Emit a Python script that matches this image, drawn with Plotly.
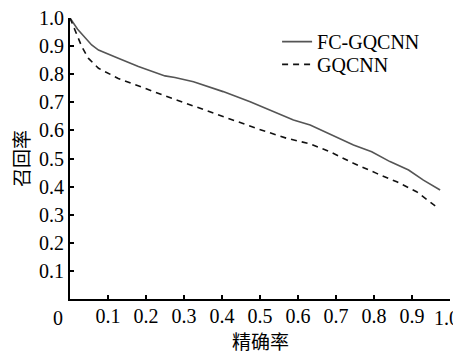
import plotly.graph_objects as go

# FC-GQCNN (solid)
fc_precision = [0.0, 0.02, 0.057, 0.075, 0.127, 0.18, 0.25, 0.276, 0.325, 0.403, 0.474,
                0.535, 0.588, 0.632, 0.684, 0.746, 0.794, 0.842, 0.891, 0.93, 0.974]
fc_recall = [1.0, 0.96, 0.904, 0.886, 0.857, 0.827, 0.794, 0.788, 0.773, 0.738, 0.702,
             0.667, 0.637, 0.619, 0.587, 0.548, 0.524, 0.489, 0.459, 0.423, 0.388]

# GQCNN (dashed)
gq_precision = [0.0, 0.015, 0.031, 0.048, 0.075, 0.127, 0.206, 0.268, 0.325, 0.403, 0.491,
                0.57, 0.632, 0.684, 0.746, 0.807, 0.86, 0.912, 0.961]
gq_recall = [1.0, 0.95, 0.898, 0.857, 0.821, 0.785, 0.744, 0.714, 0.687, 0.649, 0.607,
             0.572, 0.552, 0.524, 0.483, 0.447, 0.417, 0.382, 0.331]

x_ticks = [0.1, 0.2, 0.3, 0.4, 0.5, 0.6, 0.7, 0.8, 0.9, 1.0]
x_ticktext = ["0.1", "0.2", "0.3", "0.4", "0.5", "0.6", "0.7", "0.8", "0.9", ""]
x_last_label = "1.0"   # drawn separately so it stays inside the page edge
y_ticks = [0.1, 0.2, 0.3, 0.4, 0.5, 0.6, 0.7, 0.8, 0.9, 1.0]
y_ticktext = ["0.1", "0.2", "0.3", "0.4", "0.5", "0.6", "0.7", "0.8", "0.9", "1.0"]

SERIF = "Liberation Serif"
CJK = "Noto Sans CJK SC"

fig = go.Figure()
fig.add_trace(go.Scatter(x=fc_precision, y=fc_recall, mode="lines", name="FC-GQCNN",
                         line=dict(color="#555555", width=1.6), legend="legend"))
fig.add_trace(go.Scatter(x=gq_precision, y=gq_recall, mode="lines", name="GQCNN",
                         line=dict(color="#111111", width=1.6, dash="6px,5px"),
                         legend="legend2"))

leg_common = dict(xref="container", yref="container", xanchor="left", yanchor="top",
                  bgcolor="rgba(0,0,0,0)", itemwidth=30,
                  font=dict(family=SERIF, size=20, color="black"))

# the page body adds an 8px offset, so the figure is 8px smaller than the window
fig.update_layout(
    width=453, height=345,
    margin=dict(l=62, r=11, t=10, b=54, autoexpand=False),
    paper_bgcolor="white", plot_bgcolor="white",
    font=dict(family=SERIF, size=20, color="black"),
    showlegend=True,
    legend=dict(x=0.594, y=0.959, **leg_common),
    legend2=dict(x=0.594, y=0.893, **leg_common),
    xaxis=dict(range=[0, 1], tickvals=x_ticks, ticktext=x_ticktext, automargin=False,
               showgrid=False, zeroline=False, showline=True, linecolor="black",
               linewidth=2, ticks="inside", ticklen=4, tickwidth=1.5, tickcolor="black",
               tickfont=dict(family=SERIF, size=20), ticklabeloverflow="allow",
               ticklabelstandoff=-2),
    yaxis=dict(range=[0, 1], tickvals=y_ticks, ticktext=y_ticktext, automargin=False,
               showgrid=False, zeroline=False, showline=True, linecolor="black",
               linewidth=2, ticks="inside", ticklen=4, tickwidth=1.5, tickcolor="black",
               tickfont=dict(family=SERIF, size=20), ticklabeloverflow="allow"),
)

# corner origin label
fig.add_annotation(text="0", x=-0.032, y=-0.068, xref="paper", yref="paper",
                   xanchor="center", yanchor="middle", showarrow=False,
                   font=dict(family=SERIF, size=20, color="black"))
# last x tick label, right-aligned to the page edge
fig.add_annotation(text=x_last_label, x=1.029, y=-0.068, xref="paper", yref="paper",
                   xanchor="right", yanchor="middle", showarrow=False,
                   font=dict(family=SERIF, size=20, color="black"))
# axis titles
fig.add_annotation(text="精确率", x=0.5, y=-0.146, xref="paper", yref="paper",
                   xanchor="center", yanchor="middle", showarrow=False,
                   font=dict(family=CJK, size=19, color="black"))
fig.add_annotation(text="召回率", x=-0.13, y=0.5, xref="paper", yref="paper",
                   xanchor="center", yanchor="middle", showarrow=False, textangle=-90,
                   font=dict(family=CJK, size=19, color="black"))

fig.write_html("out.html")
